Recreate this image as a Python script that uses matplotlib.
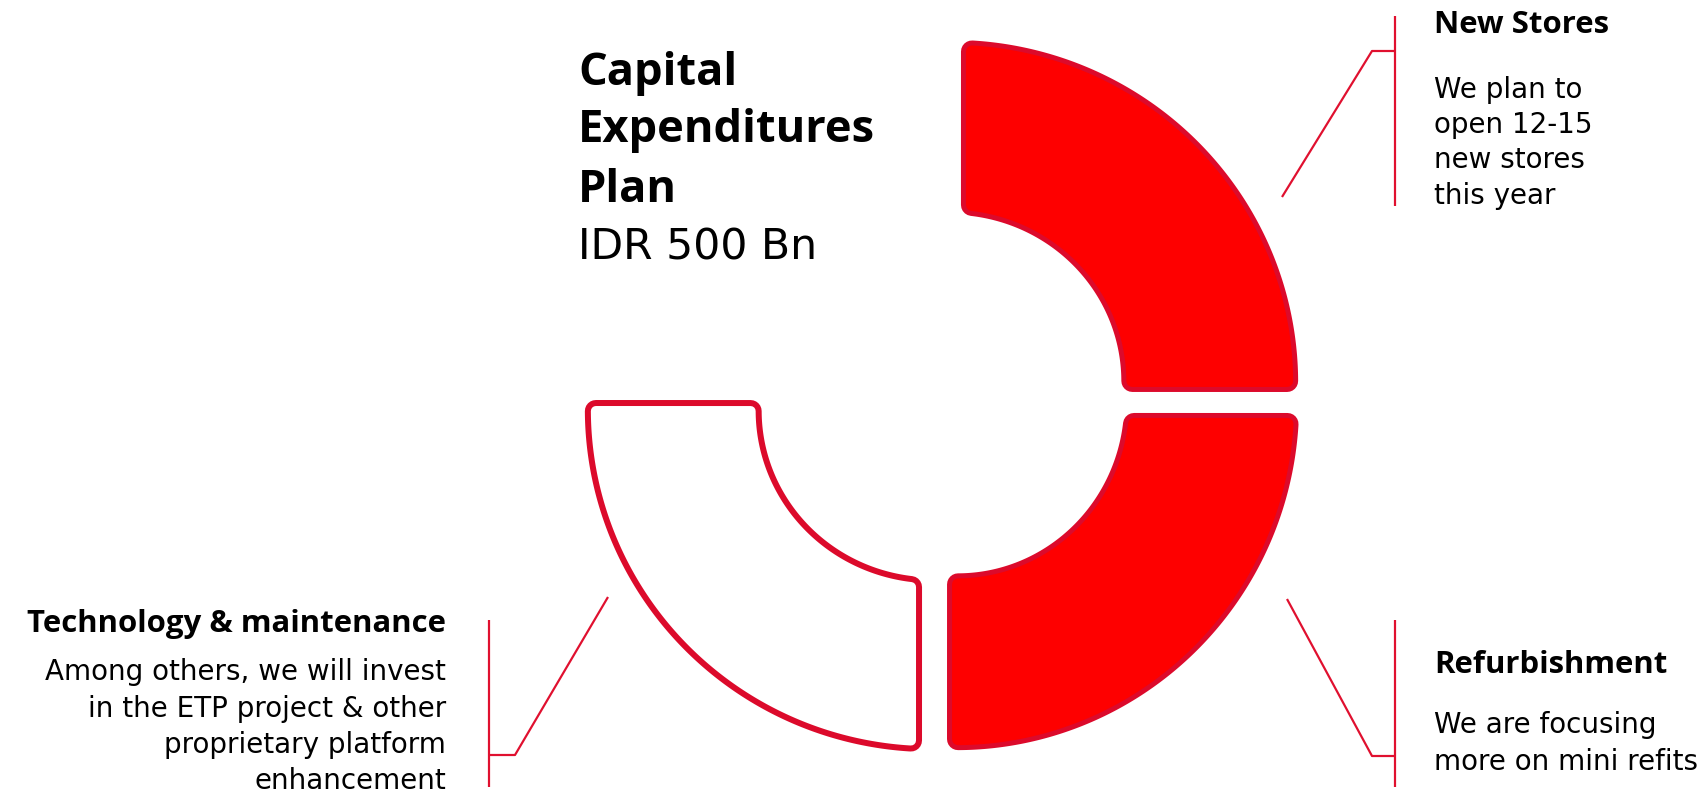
import numpy as np
import matplotlib
matplotlib.use("Agg")
import matplotlib.pyplot as plt
from matplotlib.patches import Polygon

# ---------------- data ----------------
segments = ["New Stores", "Refurbishment", "Technology & maintenance"]
span_deg = [90, 90, 90]          # angular share of each segment
filled = [True, True, False]
descriptions = [
    ["We plan to", "open 12-15", "new stores", "this year"],
    ["We are focusing", "more on mini refits"],
    ["Among others, we will invest", "in the ETP project & other",
     "proprietary platform", "enhancement"],
]
title_lines = ["Capital", "Expenditures", "Plan"]
subtitle = "IDR 500 Bn"

# ---------------- style / layout ----------------
W, H, DPI = 1699, 802, 100
PX = 72.0 / DPI                      # points per pixel
RED = "#FE0000"
CRIMSON = "#DC0A2B"
LINE = "#E0102F"

centers = [(961, 392), (947, 413), (922, 400)]   # exploded sector corners
RO_S, RO_E = 352, 337     # outer radius at start / end of each sector
RI_S, RI_E = 177, 160     # inner radius at start / end of each sector
CORNER = 11               # rounded corner radius (px)
OUT_W = [5, 5, 6]         # outline width (px)

fig = plt.figure(figsize=(W / DPI, H / DPI), dpi=DPI)
ax = fig.add_axes([0, 0, 1, 1])
ax.set_xlim(0, W)
ax.set_ylim(H, 0)
ax.axis("off")


def sector_poly(cx, cy, a0, a1, inset, n=240):
    span = a0 - a1

    def r_out(th):
        return RO_S + (RO_E - RO_S) * (a0 - th) / span

    def r_in(th):
        return RI_S + (RI_E - RI_S) * (a0 - th) / span

    do0 = np.degrees(np.arcsin(inset / (RO_S - inset)))
    do1 = np.degrees(np.arcsin(inset / (RO_E - inset)))
    th_o = np.linspace(a0 - do0, a1 + do1, n)
    ro = r_out(th_o) - inset
    di0 = np.degrees(np.arcsin(inset / (RI_S + inset)))
    di1 = np.degrees(np.arcsin(inset / (RI_E + inset)))
    th_i = np.linspace(a1 + di1, a0 - di0, n)
    ri = r_in(th_i) + inset
    xs = np.concatenate([cx + ro * np.cos(np.radians(th_o)),
                         cx + ri * np.cos(np.radians(th_i))])
    ys = np.concatenate([cy - ro * np.sin(np.radians(th_o)),
                         cy - ri * np.sin(np.radians(th_i))])
    return np.column_stack([xs, ys])


start = 90.0
for i, span in enumerate(span_deg):
    a0, a1 = start, start - span
    start = a1
    cx, cy = centers[i]
    pts = sector_poly(cx, cy, a0, a1, CORNER)
    inner_fc = RED if filled[i] else "white"
    ax.add_patch(Polygon(pts, closed=True, fc=CRIMSON, ec=CRIMSON,
                         lw=2 * CORNER * PX, joinstyle="round", zorder=2))
    ax.add_patch(Polygon(pts, closed=True, fc=inner_fc, ec=inner_fc,
                         lw=2 * (CORNER - OUT_W[i]) * PX, joinstyle="round",
                         zorder=3))

# ---------------- leader lines ----------------
leaders = [
    [((1282, 197), (1372, 51), (1395, 51)), ((1395, 16), (1395, 206))],
    [((1287, 599), (1372, 756), (1395, 756)), ((1395, 620), (1395, 787))],
    [((608, 597), (515, 755), (489, 755)), ((489, 620), (489, 787))],
]
for group in leaders:
    for seg in group:
        xs, ys = zip(*seg)
        ax.plot(xs, ys, color=LINE, lw=2.0 * PX * 1.1, solid_capstyle="butt",
                zorder=4)

# ---------------- text ----------------
BOLD = dict(family=["Open Sans", "DejaVu Sans"], weight="bold", color="black")
REG = dict(family=["DejaVu Sans"], color="black")

title_base = [85, 142, 202]
for line, y in zip(title_lines, title_base):
    ax.text(578, y, line, fontsize=32.6, va="baseline", ha="left", **BOLD)
ax.text(578, 260, subtitle, fontsize=30.6, va="baseline", ha="left", **REG)

# heading positions: (x, baseline y, ha), description baselines
heads = [(1434, 33, "left"), (1434, 673, "left"), (446, 632, "right")]
desc_base = [[98, 133, 168, 204], [733, 770], [680, 717, 753, 789]]

for i, name in enumerate(segments):
    x, y, ha = heads[i]
    ax.text(x, y, name, fontsize=22.4, va="baseline", ha=ha, **BOLD)
    for line, yb in zip(descriptions[i], desc_base[i]):
        ax.text(x, yb, line, fontsize=20.0, va="baseline", ha=ha, **REG)

fig.savefig("out.png", dpi=DPI, facecolor="white")
